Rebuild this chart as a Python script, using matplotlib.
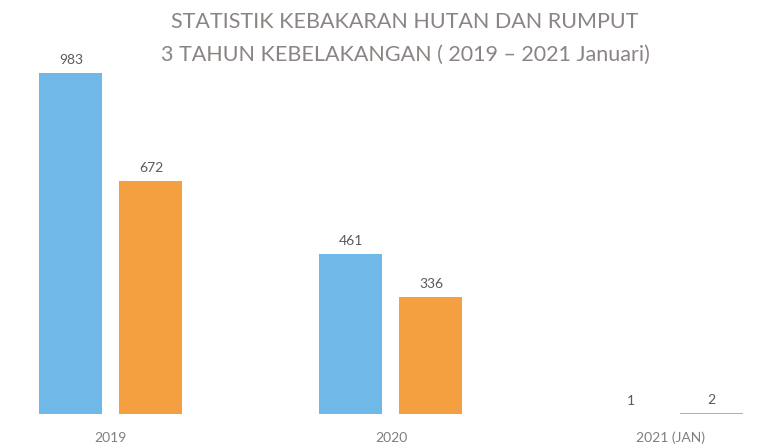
import matplotlib
matplotlib.use("Agg")
import matplotlib.pyplot as plt
import numpy as np

categories = ["2019", "2020", "2021 (JAN)"]
series_a = [983, 461, 1]
series_b = [672, 336, 2]
title_lines = ["STATISTIK KEBAKARAN HUTAN DAN RUMPUT",
               "3 TAHUN KEBELAKANGAN ( 2019 \u2013 2021 Januari)"]

plt.rcParams['font.family'] = ['Lato', 'DejaVu Sans']

fig = plt.figure(figsize=(7.76, 4.48), dpi=100)
ax = fig.add_axes([0, 0, 1, 1])
ax.set_xlim(-0.396, 2.375)
ax.set_ylim(-98, 1193)
ax.axis('off')

x = np.arange(len(categories))
w = 0.225
off = 0.143
blue = "#70b8e8"
orange = "#f4a040"
ba = ax.bar(x - off, series_a, w, color=blue)
bb = ax.bar(x + off, series_b, w, color=orange)

for rects, vals in ((ba, series_a), (bb, series_b)):
    for r, v in zip(rects, vals):
        ax.annotate(str(v), (r.get_x() + r.get_width() / 2, r.get_height()),
                    xytext=(0, 5), textcoords='offset points', ha='center', va='bottom',
                    fontsize=10, color='#595959')

for xi, c in zip(x, categories):
    ax.annotate(c, (xi, 0), xytext=(0, -17), textcoords='offset points',
                ha='center', va='center', fontsize=10, color='#7f7f7f')

fig.text(405 / 776, 1 - 22 / 448, title_lines[0], ha='center', va='center',
         fontsize=15.5, color='#8a8583')
fig.text(405 / 776, 1 - 55 / 448, title_lines[1], ha='center', va='center',
         fontsize=15.5, color='#8a8583')

fig.savefig("out.png", dpi=100)
